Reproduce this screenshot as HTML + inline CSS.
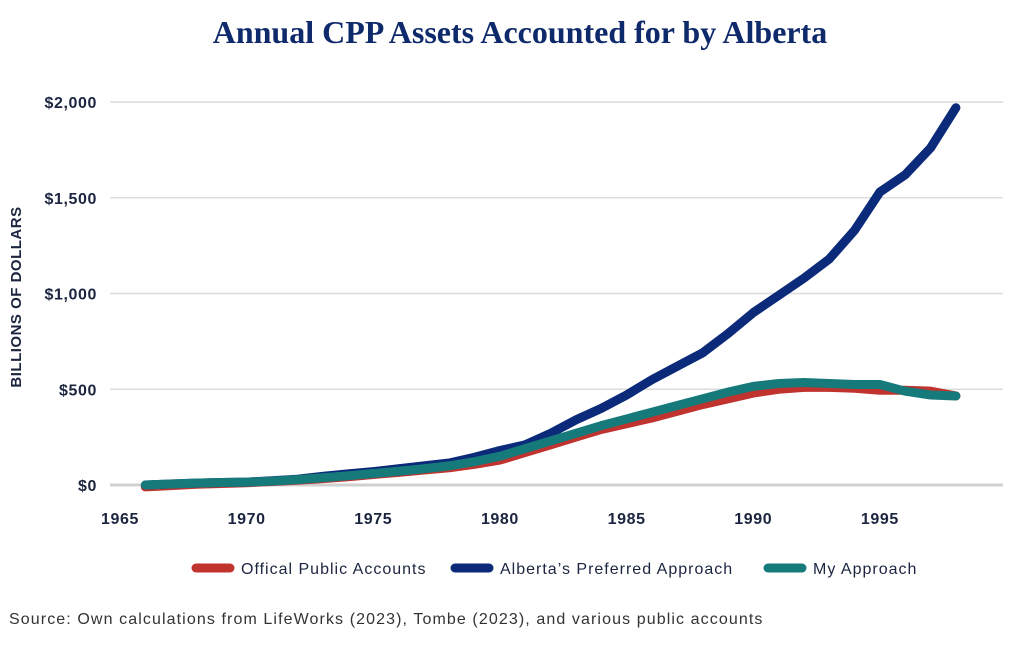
<!DOCTYPE html>
<html><head><meta charset="utf-8"><style>
body{margin:0;background:#fff;width:1024px;height:645px;overflow:hidden;font-family:"Liberation Sans",sans-serif}
</style></head><body>
<svg width="1024" height="645" id="c">
<text x="520" y="43" text-anchor="middle" font-family="Liberation Serif,serif" font-weight="bold" font-size="32" fill="#0f2a6b">Annual CPP Assets Accounted for by Alberta</text>
<text transform="translate(21,297) rotate(-90)" text-anchor="middle" font-size="15" font-weight="bold" fill="#1c2540" letter-spacing="0.5">BILLIONS OF DOLLARS</text>
<g id="grid"></g><g id="lines"></g>
<g font-size="16" fill="#1c2540" letter-spacing="1">
<line x1="196" y1="568" x2="230" y2="568" stroke="#c0332e" stroke-width="9" stroke-linecap="round"/>
<text x="241" y="574">Offical Public Accounts</text>
<line x1="455" y1="568" x2="489" y2="568" stroke="#0b2a7a" stroke-width="9" stroke-linecap="round"/>
<text x="500" y="574">Alberta’s Preferred Approach</text>
<line x1="768" y1="568" x2="802" y2="568" stroke="#167a7a" stroke-width="9" stroke-linecap="round"/>
<text x="813" y="574">My Approach</text>
</g>
<text x="9" y="624" font-size="16" fill="#333" letter-spacing="1.1">Source: Own calculations from LifeWorks (2023), Tombe (2023), and various public accounts</text>
</svg>
<script>
const years=[1966,1967,1968,1969,1970,1971,1972,1973,1974,1975,1976,1977,1978,1979,1980,1981,1982,1983,1984,1985,1986,1987,1988,1989,1990,1991,1992,1993,1994,1995,1996,1997,1998];
const official=[-10,-3,4,8,12,18,25,33,43,55,66,78,90,108,130,170,210,250,290,320,350,385,420,450,480,500,510,510,505,495,495,490,465];
const alberta=[0,5,10,13,15,22,30,45,58,70,85,100,115,145,180,210,270,340,400,470,550,620,690,790,900,990,1080,1180,1330,1530,1620,1760,1970];
const mine=[0,5,10,13,15,20,28,38,48,60,72,85,100,122,150,190,230,270,310,345,380,415,450,485,515,530,535,530,525,525,490,470,465];
const yTicks=[0,500,1000,1500,2000];
const yLabels=["$0","$500","$1,000","$1,500","$2,000"];
const xTicks=[1965,1970,1975,1980,1985,1990,1995];
const X=y=>120+(y-1965)*25.33, Y=v=>485-v*0.1915;
const ns="http://www.w3.org/2000/svg";
const g=document.getElementById('grid'), L=document.getElementById('lines');
function mk(tag,at,p){const e=document.createElementNS(ns,tag);for(const k in at)e.setAttribute(k,at[k]);p.appendChild(e);return e;}
yTicks.forEach((t,i)=>{
 const l=mk('line',{x1:110,x2:1003,y1:Y(t),y2:Y(t),stroke:t==0?'#d0d0d0':'#dcdcdc','stroke-width':t==0?3:1.5},g);
 
 
 const tx=mk('text',{x:97,y:Y(t)+6,'text-anchor':'end','font-size':16,'font-weight':'bold',fill:'#1c2540','letter-spacing':0.6},g);
 tx.textContent=yLabels[i];
 
 
});
xTicks.forEach(t=>{
 const tx=mk('text',{x:X(t),y:524,'text-anchor':'middle','font-size':16,'font-weight':'bold',fill:'#1c2540','letter-spacing':0.6},g);
 tx.textContent=t;
 
 
});
[[official,'#c0332e','line-official'],[alberta,'#0b2a7a','line-alberta'],[mine,'#167a7a','line-mine']].forEach(([d,c,n])=>{
 const p=mk('polyline',{points:d.map((v,i)=>X(years[i])+','+Y(v)).join(' '),fill:'none',stroke:c,'stroke-width':9,'stroke-linecap':'round','stroke-linejoin':'round'},L);
 
 
});
</script>
</body></html>
